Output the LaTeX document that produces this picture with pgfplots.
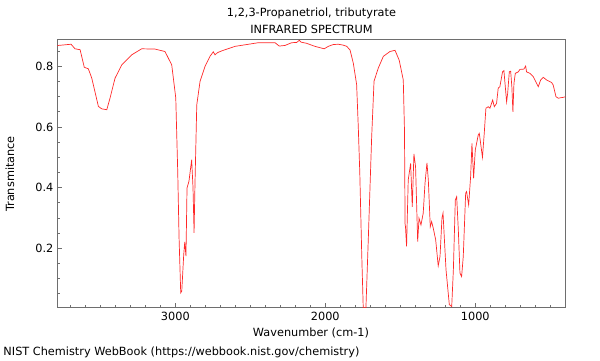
\documentclass[border=0pt]{standalone}
\usepackage{fontspec}
\setmainfont{DejaVu Sans}
\usepackage{pgfplots}
\pgfplotsset{compat=1.18}
\definecolor{spine}{RGB}{110,110,110}
\definecolor{spec}{RGB}{255,40,40}
\begin{document}
\fontsize{11.3pt}{13pt}\selectfont
\begin{tikzpicture}
\path[use as bounding box] (-57.3pt,-52.3pt) rectangle (542.7pt,307.7pt);
\begin{axis}[
  at={(0pt,0pt)}, anchor=south west,
  scale only axis, width=508.4pt, height=267.7pt,
  x dir=reverse, xmin=397, xmax=3787, ymin=0.004, ymax=0.887,
  xtick={1000,2000,3000},
  minor xtick={400,500,...,3700},
  ytick={0.2,0.4,0.6,0.8},
  minor ytick={0.05,0.1,...,0.86},
  xtick pos=bottom, ytick pos=left, tick align=inside,
  major tick length=5pt, minor tick length=3pt,
  tick style={spine, line width=0.8pt},
  axis line style={spine, line width=1pt},
  /pgf/number format/assume math mode=true,
  /pgf/number format/set thousands separator={},
  yticklabel style={/pgf/number format/fixed, /pgf/number format/precision=1, /pgf/number format/fixed zerofill, font=\fontsize{11.3pt}{13pt}\selectfont},
  xticklabel style={font=\fontsize{11.3pt}{13pt}\selectfont},
  scaled y ticks=false,
]
\addplot[spec, line width=0.7pt] coordinates {
(3787,0.868) (3782,0.869) (3695,0.873) (3669,0.858) (3635,0.855) (3607,0.797)
(3580,0.792) (3557,0.761) (3513,0.668) (3491,0.660) (3457,0.657) (3435,0.696)
(3402,0.761) (3357,0.805) (3291,0.838) (3224,0.858) (3135,0.857) (3069,0.849)
(3024,0.805) (2997,0.696) (2984,0.454) (2975,0.234) (2964,0.053) (2957,0.059)
(2944,0.179) (2937,0.221) (2929,0.174) (2922,0.399) (2909,0.421) (2891,0.492)
(2882,0.399) (2875,0.251) (2869,0.410) (2857,0.673) (2835,0.751) (2802,0.800)
(2769,0.833) (2747,0.848) (2735,0.838) (2720,0.845) (2691,0.851) (2602,0.866)
(2447,0.878) (2335,0.878) (2307,0.867) (2269,0.869) (2224,0.878) (2191,0.879)
(2173,0.886) (2162,0.880) (2124,0.876) (2069,0.866) (2007,0.858) (1980,0.866)
(1947,0.872) (1913,0.873) (1880,0.870) (1857,0.866) (1835,0.854) (1813,0.810)
(1791,0.740) (1780,0.600) (1770,0.450) (1757,0.179) (1747,0.004) (1729,0.004)
(1713,0.234) (1691,0.564) (1675,0.751) (1647,0.794) (1613,0.833) (1569,0.849)
(1535,0.853) (1507,0.820) (1480,0.755) (1472,0.590) (1468,0.280) (1465,0.270)
(1458,0.206) (1447,0.425) (1431,0.480) (1420,0.337) (1409,0.511) (1398,0.469)
(1384,0.222) (1375,0.299) (1362,0.277) (1347,0.316) (1335,0.415) (1322,0.482)
(1313,0.425) (1300,0.271) (1291,0.288) (1280,0.266) (1264,0.228) (1247,0.142)
(1235,0.173) (1222,0.300) (1215,0.316) (1208,0.250) (1195,0.129) (1173,0.014)
(1157,0.008) (1146,0.129) (1133,0.359) (1124,0.370) (1113,0.261) (1102,0.118)
(1091,0.107) (1080,0.173) (1064,0.382) (1058,0.387) (1044,0.343) (1031,0.436)
(1022,0.546) (1011,0.431) (1000,0.524) (980,0.574) (973,0.579) (952,0.500)
(940,0.580) (929,0.662) (913,0.667) (902,0.662) (884,0.689) (873,0.667)
(858,0.678) (847,0.728) (836,0.733) (818,0.782) (809,0.786) (791,0.683)
(784,0.711) (773,0.782) (764,0.784) (756,0.733) (749,0.650) (742,0.744)
(733,0.777) (713,0.782) (702,0.790) (676,0.791) (664,0.801) (658,0.782)
(636,0.777) (613,0.766) (591,0.744) (580,0.733) (564,0.755) (547,0.764)
(524,0.755) (491,0.747) (480,0.738) (462,0.700) (447,0.695) (413,0.698)
(397,0.700)
};
\end{axis}
\node at (254.2pt,294.4pt) {1,2,3-Propanetriol, tributyrate};
\node at (254.2pt,278pt) {INFRARED SPECTRUM};
\node at (253.7pt,-25pt) {Wavenumber (cm-1)};
\node[rotate=90] at (-47.3pt,133.7pt) {Transmitance};
\node[anchor=west, inner sep=0pt] at (-54pt,-45pt) {NIST Chemistry WebBook (https://webbook.nist.gov/chemistry)};
\end{tikzpicture}
\end{document}
